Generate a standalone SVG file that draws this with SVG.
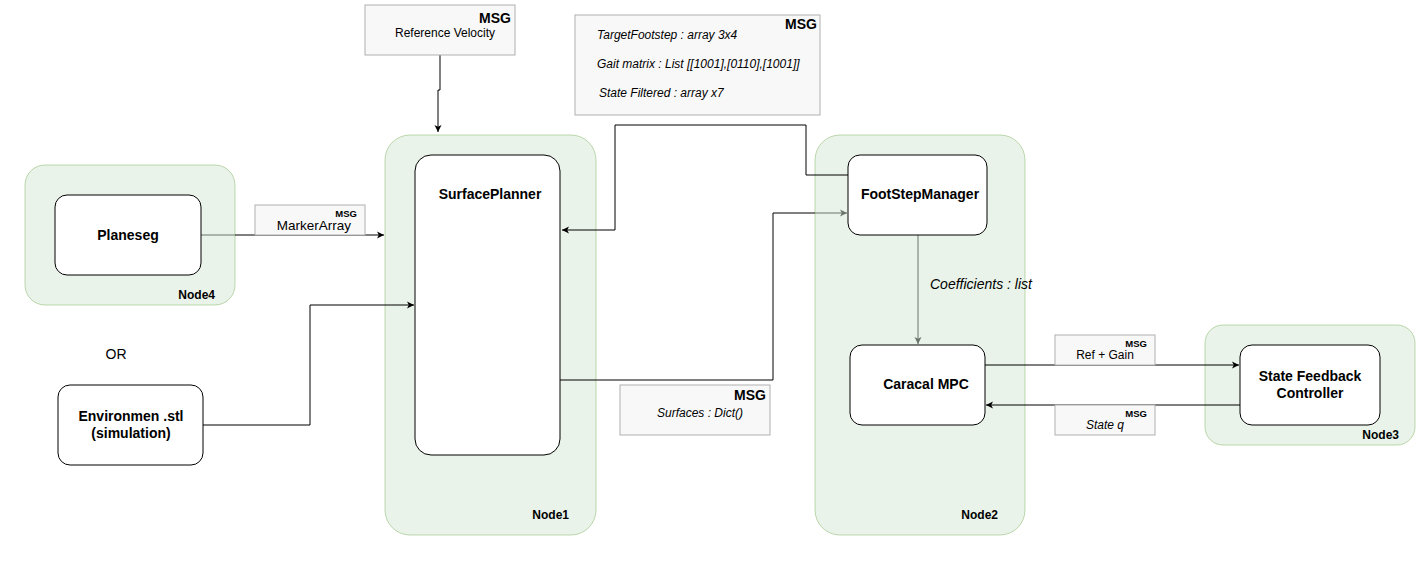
<svg xmlns="http://www.w3.org/2000/svg" width="1425" height="570" viewBox="0 0 1425 570">
<style>
.cont{fill:#d5e8d4;fill-opacity:0.5;stroke:#82b366;stroke-opacity:0.5;stroke-width:1}
.node{fill:#ffffff;stroke:#000;stroke-width:1}
.msg{fill:#f8f8f8;stroke:#b0b0b0;stroke-width:1}
.edge{fill:none;stroke:#000;stroke-width:1}
.b14{font-family:"Liberation Sans",Arial,sans-serif;font-size:14px;font-weight:bold;fill:#000}
.b12{font-family:"Liberation Sans",Arial,sans-serif;font-size:12px;font-weight:bold;fill:#000}
.m{font-family:"Liberation Sans",Arial,sans-serif;font-size:9.5px;font-weight:bold;fill:#000}
.t12{font-family:"Liberation Sans",Arial,sans-serif;font-size:12px;fill:#000}
.i12{font-family:"Liberation Sans",Arial,sans-serif;font-size:12px;font-style:italic;fill:#000}
.t14{font-family:"Liberation Sans",Arial,sans-serif;font-size:14px;fill:#000}
.i14{font-family:"Liberation Sans",Arial,sans-serif;font-size:14px;font-style:italic;fill:#000}
</style>
<defs>
<marker id="arr" markerWidth="10" markerHeight="10" refX="8" refY="5" orient="auto" markerUnits="userSpaceOnUse">
<path d="M1,1.5 L8,5 L1,8.5 L2.8,5 Z" fill="#000"/>
</marker>
</defs>
<rect width="1425" height="570" fill="#fff"/>
<g id="node1">
<rect class="cont" x="385" y="135" width="211" height="400" rx="25"/>
<text class="b12" x="569" y="519" text-anchor="end">Node1</text>
</g>
<g id="node3">
<rect class="cont" x="1205" y="325" width="210" height="120" rx="18"/>
<text class="b12" x="1399" y="439" text-anchor="end">Node3</text>
</g>
<g id="connectors">
<path class="edge" d="M201,235 H235"/>
<path class="edge" d="M815,213 H847" marker-end="url(#arr)"/>
<path class="edge" d="M918,235 V344" marker-end="url(#arr)"/>
<rect class="cont" x="25" y="165" width="210" height="140" rx="20"/>
<rect class="cont" x="815" y="135" width="210" height="400" rx="25"/>
<path class="edge" d="M560,380 H773 V213 H815"/>
<path class="edge" d="M235,235 H384" marker-end="url(#arr)"/>
<path class="edge" d="M440,55 V90 H438 V132" marker-end="url(#arr)"/>
<path class="edge" d="M203,425 H310 V305 H414" marker-end="url(#arr)"/>
<path class="edge" d="M848,175 H806 V125 H615 V230 H562" marker-end="url(#arr)"/>
<path class="edge" d="M985,365 H1239" marker-end="url(#arr)"/>
<path class="edge" d="M1240,405 H986" marker-end="url(#arr)"/>
</g>
<g id="node4">
<text class="b12" x="215" y="299" text-anchor="end">Node4</text>
</g>
<g id="node2">
<text class="b12" x="998" y="519" text-anchor="end">Node2</text>
</g>
<g id="planeseg">
<rect class="node" x="55" y="195" width="146" height="80" rx="12"/>
<text class="b14" x="128" y="240" text-anchor="middle">Planeseg</text>
</g>
<g id="environment">
<rect class="node" x="58" y="385" width="145" height="80" rx="12"/>
<text class="b14" x="131" y="421" text-anchor="middle">Environmen .stl</text>
<text class="b14" x="131" y="438" text-anchor="middle">(simulation)</text>
</g>
<g id="or">
<text class="t14" x="116" y="359" text-anchor="middle">OR</text>
</g>
<g id="surfaceplanner">
<rect class="node" x="415" y="155" width="145" height="300" rx="16"/>
<text class="b14" x="490" y="199" text-anchor="middle">SurfacePlanner</text>
</g>
<g id="footstepmanager">
<rect class="node" x="848" y="155" width="139" height="80" rx="12"/>
<text class="b14" x="920" y="199" text-anchor="middle">FootStepManager</text>
</g>
<g id="caracal">
<rect class="node" x="850" y="345" width="135" height="80" rx="12"/>
<text class="b14" x="926" y="389" text-anchor="middle">Caracal MPC</text>
</g>
<g id="sfc">
<rect class="node" x="1240" y="345" width="140" height="80" rx="12"/>
<text class="b14" x="1310" y="381" text-anchor="middle">State Feedback</text>
<text class="b14" x="1310" y="398" text-anchor="middle">Controller</text>
</g>
<g id="msg-refvel">
<rect class="msg" x="365" y="5" width="150" height="50"/>
<text class="b14" x="511" y="23" text-anchor="end">MSG</text>
<text class="t12" x="445" y="37" text-anchor="middle">Reference Velocity</text>
</g>
<g id="msg-footstep">
<rect class="msg" x="575" y="15" width="245" height="100"/>
<text class="b14" x="817" y="29" text-anchor="end">MSG</text>
<text class="i12" x="597" y="39">TargetFootstep : array 3x4</text>
<text class="i12" x="597" y="68">Gait matrix : List [[1001],[0110],[1001]]</text>
<text class="i12" x="599" y="97">State Filtered : array x7</text>
</g>
<g id="msg-marker">
<rect class="msg" x="255" y="205" width="110" height="30"/>
<text class="m" x="357" y="217" text-anchor="end">MSG</text>
<text class="t14" x="314" y="230" text-anchor="middle" style="font-size:13.5px">MarkerArray</text>
</g>
<g id="msg-surfaces">
<rect class="msg" x="620" y="385" width="150" height="50"/>
<text class="b14" x="766" y="400" text-anchor="end">MSG</text>
<text class="i12" x="700" y="417" text-anchor="middle">Surfaces : Dict()</text>
</g>
<g id="msg-refgain">
<rect class="msg" x="1055" y="335" width="100" height="30"/>
<text class="m" x="1147" y="347" text-anchor="end">MSG</text>
<text class="t12" x="1105" y="359" text-anchor="middle">Ref + Gain</text>
</g>
<g id="msg-stateq">
<rect class="msg" x="1055" y="405" width="100" height="30"/>
<text class="m" x="1147" y="417" text-anchor="end">MSG</text>
<text class="i12" x="1105" y="429" text-anchor="middle">State q</text>
</g>
<g id="label-coeff">
<text class="i14" x="930" y="289">Coefficients : list</text>
</g>
</svg>
